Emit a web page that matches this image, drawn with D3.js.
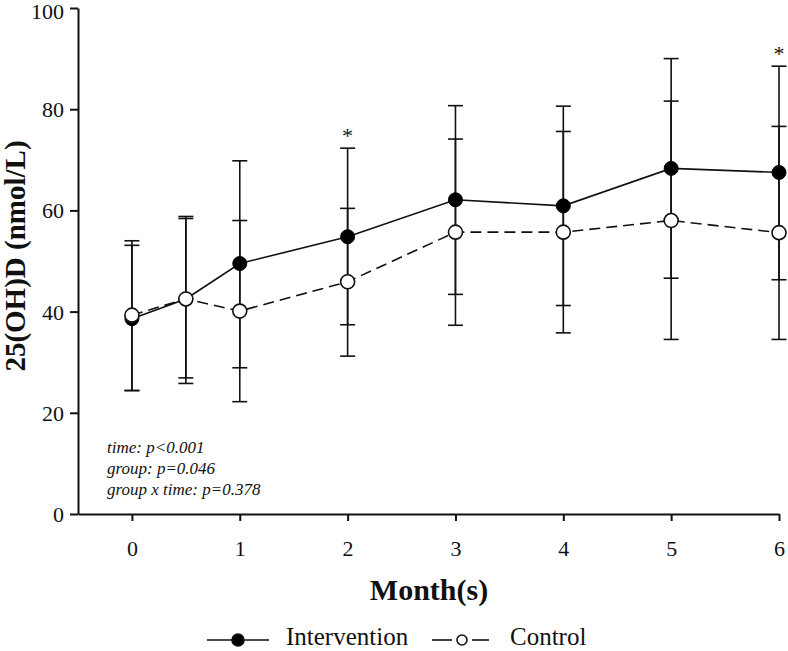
<!DOCTYPE html>
<html>
<head>
<meta charset="utf-8">
<script src="https://cdn.jsdelivr.net/npm/d3@7"></script>
<style>
  html, body { margin: 0; padding: 0; background: #fff; }
  svg { display: block; }
  text { font-family: "Liberation Serif", "Times New Roman", serif; fill: #111; }
</style>
</head>
<body>
<div id="chart"></div>
<script>
// ---- data ----
const months = [0, 0.5, 1, 2, 3, 4, 5, 6];
const xTicks = [0, 1, 2, 3, 4, 5, 6];
const yTicks = [0, 20, 40, 60, 80, 100];

const interventionMean  = [38.6, 42.5, 49.5, 54.8, 62.1, 60.9, 68.3, 67.5];
const interventionUpper = [54.0, 58.8, 69.8, 72.3, 80.7, 80.6, 90.0, 88.5];
const interventionLower = [24.4, 25.8, 28.9, 37.4, 43.4, 41.2, 46.6, 46.3];

const controlMean  = [39.3, 42.5, 40.1, 45.9, 55.7, 55.7, 58.0, 55.6];
const controlUpper = [53.1, 58.4, 58.0, 60.4, 74.1, 75.6, 81.6, 76.6];
const controlLower = [24.4, 26.9, 22.2, 31.2, 37.3, 35.8, 34.5, 34.5];

const significantMonths = [2, 6];
const statsLines = ["time: p<0.001", "group: p=0.046", "group x time: p=0.378"];
const seriesNames = ["Intervention", "Control"];

// ---- layout ----
const W = 788, H = 651;
const svg = d3.select("#chart").append("svg").attr("width", W).attr("height", H);

const x = d3.scaleLinear().domain([-0.5, 6]).range([78, 779]);
const y = d3.scaleLinear().domain([0, 100]).range([514, 8]);

// axes
const yAxis = d3.axisLeft(y).tickValues(yTicks).tickFormat(d3.format("d"))
  .tickSize(8).tickSizeOuter(0).tickPadding(6);
const gy = svg.append("g").attr("transform", `translate(${x(-0.5)},0)`).call(yAxis);
gy.attr("font-family", null);
gy.selectAll("text").style("font-size", "22px").style("font-family", "Liberation Serif").attr("dy", "0.34em");
gy.selectAll(".tick text").filter(d => d === d3.max(yTicks)).attr("transform", "translate(0,3)");
gy.select(".domain").attr("stroke-width", 2).attr("stroke", "#111");
gy.selectAll(".tick line").attr("stroke-width", 2).attr("stroke", "#111");

const xAxis = d3.axisBottom(x).tickValues(xTicks).tickFormat(d3.format("d"))
  .tickSize(7).tickSizeOuter(0).tickPadding(19);
const gx = svg.append("g").attr("transform", `translate(0,${y(0)})`).call(xAxis);
gx.attr("font-family", null);
gx.selectAll("text").style("font-size", "22px").style("font-family", "Liberation Serif");
gx.select(".domain").attr("stroke-width", 2).attr("stroke", "#111");
gx.selectAll(".tick line").attr("stroke-width", 2).attr("stroke", "#111");

// axis titles
svg.append("text")
  .attr("transform", `translate(15,256) rotate(-90)`)
  .attr("text-anchor", "middle")
  .attr("dominant-baseline", "central")
  .style("font-weight", "bold").style("font-size", "29px")
  .text("25(OH)D (nmol/L)");

svg.append("text")
  .attr("x", 429).attr("y", 600)
  .attr("text-anchor", "middle")
  .style("font-weight", "bold").style("font-size", "30px")
  .text("Month(s)");

// data tables
const mk = (mean, up, lo) => months.map((m, i) => ({ m, mean: mean[i], up: up[i], lo: lo[i] }));
const interv = mk(interventionMean, interventionUpper, interventionLower);
const ctrl = mk(controlMean, controlUpper, controlLower);

const capW = 7.5;
function errorBars(data, cls) {
  const g = svg.append("g").attr("class", cls).attr("stroke", "#111").attr("stroke-width", 1.6);
  g.selectAll("line.v").data(data).join("line")
    .attr("x1", d => x(d.m)).attr("x2", d => x(d.m))
    .attr("y1", d => y(d.lo)).attr("y2", d => y(d.up));
  g.selectAll("line.u").data(data).join("line")
    .attr("x1", d => x(d.m) - capW).attr("x2", d => x(d.m) + capW)
    .attr("y1", d => y(d.up)).attr("y2", d => y(d.up));
  g.selectAll("line.l").data(data).join("line")
    .attr("x1", d => x(d.m) - capW).attr("x2", d => x(d.m) + capW)
    .attr("y1", d => y(d.lo)).attr("y2", d => y(d.lo));
}
errorBars(interv, "eb-int");
errorBars(ctrl, "eb-ctrl");

const line = d3.line().x(d => x(d.m)).y(d => y(d.mean));

// intervention series
svg.append("path").datum(interv).attr("d", line)
  .attr("fill", "none").attr("stroke", "#111").attr("stroke-width", 1.6);
svg.append("g").selectAll("circle").data(interv).join("circle")
  .attr("cx", d => x(d.m)).attr("cy", d => y(d.mean)).attr("r", 7)
  .attr("fill", "#000").attr("stroke", "#000").attr("stroke-width", 1);

// control series
svg.append("path").datum(ctrl).attr("d", line)
  .attr("fill", "none").attr("stroke", "#111").attr("stroke-width", 1.6)
  .attr("stroke-dasharray", "11,6");
svg.append("g").selectAll("circle").data(ctrl).join("circle")
  .attr("cx", d => x(d.m)).attr("cy", d => y(d.mean)).attr("r", 7)
  .attr("fill", "#fff").attr("stroke", "#111").attr("stroke-width", 1.6);

// significance stars
svg.append("g").selectAll("text").data(significantMonths).join("text")
  .attr("x", m => x(m))
  .attr("y", m => {
    const i = months.indexOf(m);
    return y(Math.max(interventionUpper[i], controlUpper[i])) - 5;
  })
  .attr("text-anchor", "middle")
  .style("font-size", "22px")
  .text("*");

// stats annotation
svg.append("g").selectAll("text").data(statsLines).join("text")
  .attr("x", 107).attr("y", (d, i) => 453 + i * 21)
  .style("font-style", "italic").style("font-size", "17px")
  .text(d => d);

// legend
const lg = svg.append("g").attr("stroke", "#111").attr("stroke-width", 1.6);
lg.append("line").attr("x1", 207).attr("x2", 269).attr("y1", 640).attr("y2", 640);
lg.append("circle").attr("cx", 238).attr("cy", 640).attr("r", 6).attr("fill", "#000");
lg.append("line").attr("x1", 432).attr("x2", 452).attr("y1", 640).attr("y2", 640);
lg.append("line").attr("x1", 472).attr("x2", 489).attr("y1", 640).attr("y2", 640);
lg.append("circle").attr("cx", 462).attr("cy", 640).attr("r", 5).attr("fill", "#fff");
svg.append("text").attr("x", 286).attr("y", 645).style("font-size", "25px").text(seriesNames[0]);
svg.append("text").attr("x", 510).attr("y", 645).style("font-size", "25px").text(seriesNames[1]);
</script>
</body>
</html>
